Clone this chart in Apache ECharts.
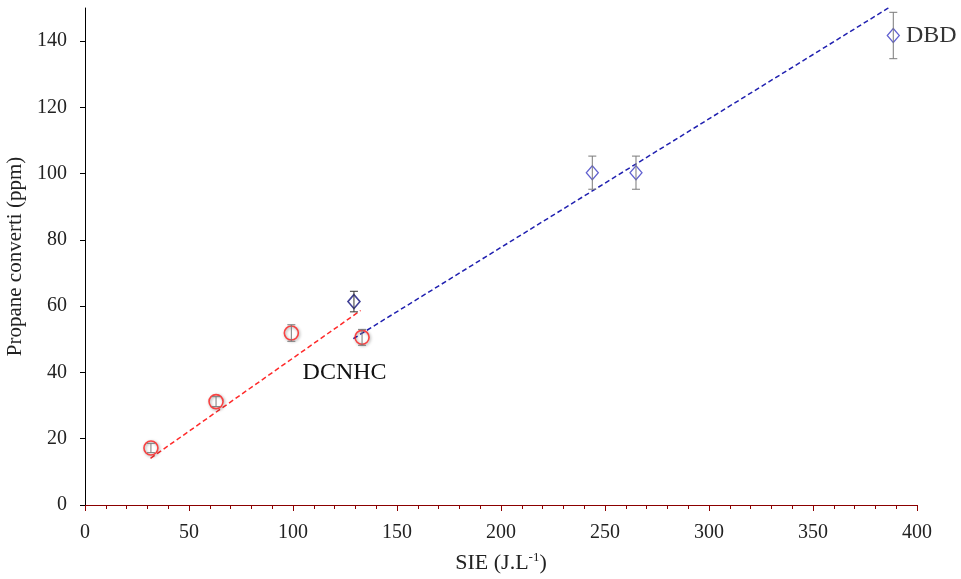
<!DOCTYPE html>
<html><head><meta charset="utf-8">
<script src="https://cdn.jsdelivr.net/npm/echarts@6/dist/echarts.min.js"></script>
<style>html,body{margin:0;padding:0;background:#fff}#c{width:961px;height:579px}</style>
</head><body><div id="c"></div>
<script>
// DCNHC (red circles)
const dcX = [31.7, 63, 99.2, 133.2];
const dcY = [17.2, 31.2, 51.9, 50.6];
const dcErr = [1.4, 1.5, 2.5, 2.4];
// DBD (blue diamonds)
const dbX = [129.3, 243.9, 264.9, 388.6];
const dbY = [61.4, 100.3, 100.3, 141.7];
const dbErr = [3.1, 5, 5, 7];
// trend lines (endpoints)
const dcTrendX = [31.5, 132.5];
const dcTrendY = [14.1, 58.7];
const dbTrendX = [129, 387];
const dbTrendY = [50.2, 150.3];
const xTicks = [0, 50, 100, 150, 200, 250, 300, 350, 400];
const yTicks = [0, 20, 40, 60, 80, 100, 120, 140];

const serif = '"Liberation Serif", "DejaVu Serif", serif';
const zip = (a, b) => a.map((v, i) => [v, b[i]]);
const errData = (xs, ys, es) => xs.map((v, i) => [v, ys[i] - es[i], ys[i] + es[i]]);

function errRender(colors) {
  return function (params, api) {
    const x = api.value(0), lo = api.value(1), hi = api.value(2);
    const p1 = api.coord([x, hi]), p2 = api.coord([x, lo]);
    const w = 4;
    const stroke = colors[params.dataIndex] || colors[0];
    const st = { stroke: stroke, lineWidth: 1 };
    return { type: 'group', children: [
      { type: 'line', shape: { x1: p1[0], y1: p1[1], x2: p2[0], y2: p2[1] }, style: st },
      { type: 'line', shape: { x1: p1[0] - w, y1: p1[1], x2: p1[0] + w, y2: p1[1] }, style: st },
      { type: 'line', shape: { x1: p2[0] - w, y1: p2[1], x2: p2[0] + w, y2: p2[1] }, style: st }
    ]};
  };
}

const chart = echarts.init(document.getElementById('c'));
chart.setOption({
  animation: false,
  backgroundColor: '#fff',
  grid: { left: 85, right: 44, top: 8, bottom: 74, containLabel: false, outerBoundsMode: 'none' },
  xAxis: {
    type: 'value', min: xTicks[0], max: xTicks[xTicks.length - 1], interval: 50,
    name: '{n|SIE (J.L}{s|-1}{n|)}', nameLocation: 'middle', nameGap: 46,
    nameTextStyle: { rich: {
      n: { fontFamily: serif, fontSize: 22, color: '#222' },
      s: { fontFamily: serif, fontSize: 13, color: '#222', verticalAlign: 'top', padding: [0, 0, 11, 0] }
    } },
    axisLine: { show: true, lineStyle: { color: '#8b0000', width: 1.2 } },
    axisTick: { show: true, length: 6, lineStyle: { color: '#8b0000' } },
    minorTick: { show: true, splitNumber: 5, length: 4, lineStyle: { color: '#8b0000' } },
    splitLine: { show: false },
    axisLabel: { fontFamily: serif, fontSize: 20, color: '#222', margin: 18 }
  },
  yAxis: {
    type: 'value', min: yTicks[0], max: 150, interval: 20,
    name: 'Propane converti (ppm)', nameLocation: 'middle', nameGap: 47,
    nameTextStyle: { fontFamily: serif, fontSize: 21, color: '#222' },
    axisLine: { show: true, lineStyle: { color: '#000', width: 1 } },
    axisTick: { show: true, length: 5, lineStyle: { color: '#000' } },
    splitLine: { show: false },
    axisLabel: { fontFamily: serif, fontSize: 20, color: '#222', margin: 18, showMaxLabel: false }
  },
  series: [
    {
      type: 'line', data: zip(dcTrendX, dcTrendY), symbol: 'none', silent: true,
      lineStyle: { color: '#ff2a2a', width: 1.5, type: [5, 3] }, z: 1
    },
    {
      type: 'line', data: zip(dbTrendX, dbTrendY), symbol: 'none', silent: true,
      lineStyle: { color: '#2020b0', width: 1.5, type: [5, 3] }, z: 1
    },
    {
      type: 'scatter', data: zip(dcX, dcY), symbol: 'circle', symbolSize: 14,
      itemStyle: { color: 'rgba(255,255,255,0)', borderColor: '#ff1a1a', borderWidth: 1.6,
        shadowBlur: 3, shadowColor: 'rgba(0,0,0,0.45)', shadowOffsetX: 1, shadowOffsetY: 1 },
      z: 3,
      markPoint: {
        symbol: 'circle', symbolSize: 1, itemStyle: { color: 'rgba(0,0,0,0)' },
        data: [{ coord: [124.8, 39.8], value: 'DCNHC' }],
        label: { show: true, position: 'inside', formatter: 'DCNHC', fontFamily: serif, fontSize: 24, color: '#111' }
      }
    },
    {
      type: 'scatter', symbol: 'diamond', symbolSize: [12, 14],
      data: zip(dbX, dbY).map((d, i) => i === 0 ? { value: d, itemStyle: { borderColor: '#10107a', borderWidth: 1.6 } } : d),
      itemStyle: { color: 'rgba(255,255,255,0)', borderColor: '#3a3ac4', borderWidth: 1.3 },
      z: 3,
      label: {
        show: true, position: 'right', distance: 6, fontFamily: serif, fontSize: 24, color: '#000',
        formatter: p => p.dataIndex === dbX.length - 1 ? 'DBD' : ''
      }
    },
    {
      type: 'custom', data: errData(dcX, dcY, dcErr), renderItem: errRender(['#7a7a7a']), z: 4, silent: true
    },
    {
      type: 'custom', data: errData(dbX, dbY, dbErr), renderItem: errRender(['#333', '#7a7a7a', '#7a7a7a', '#7a7a7a']), z: 4, silent: true
    }
  ]
});
</script>
</body></html>
